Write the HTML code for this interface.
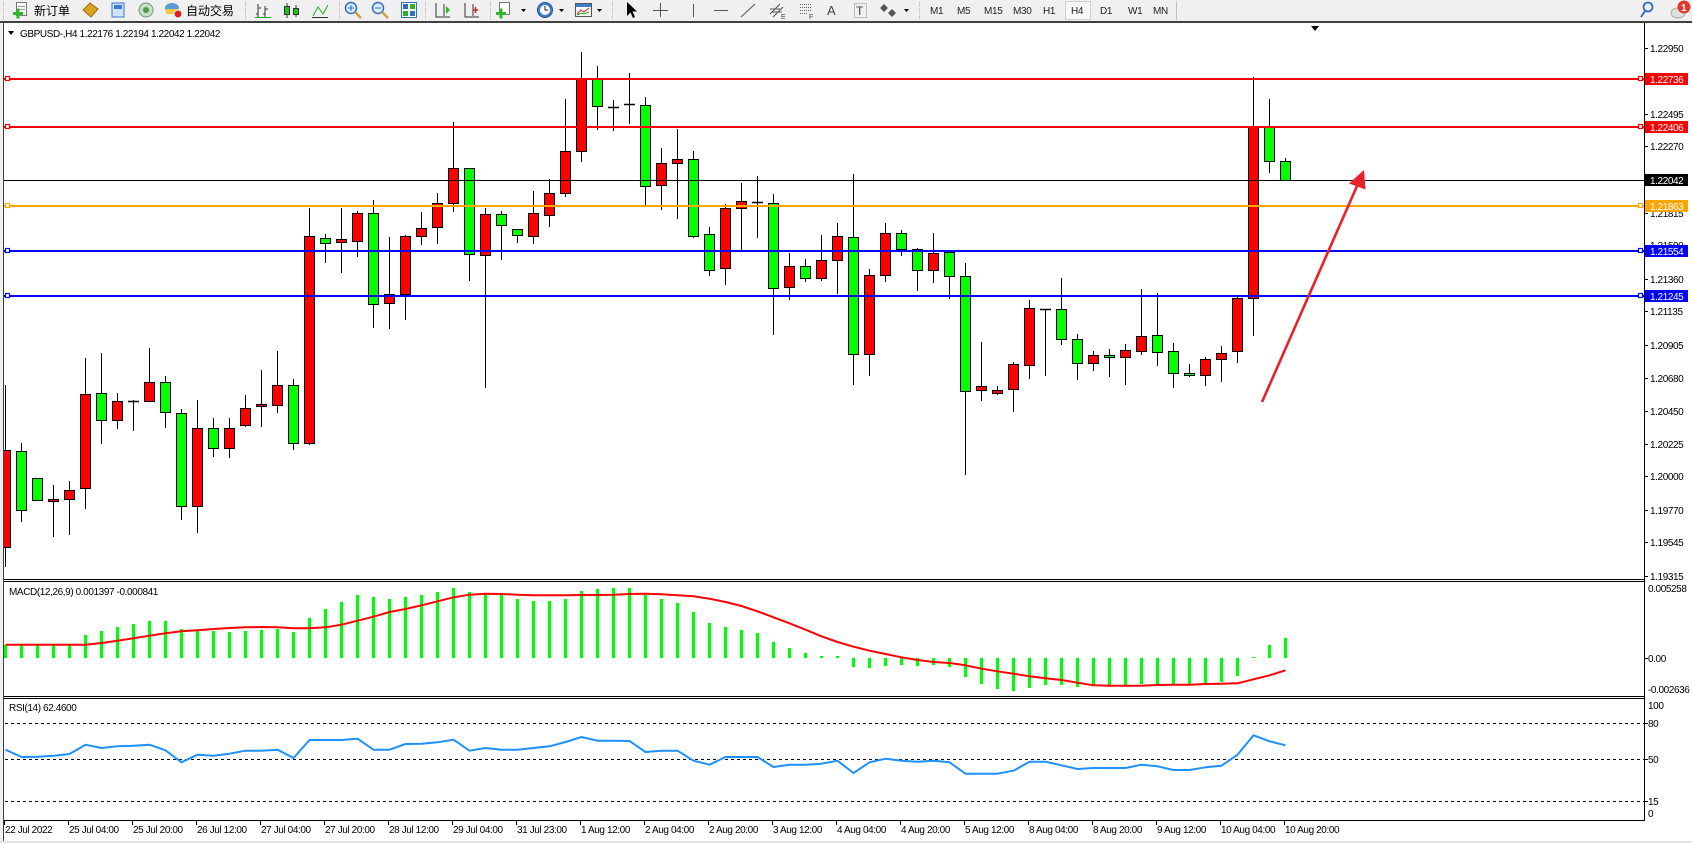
<!DOCTYPE html>
<html><head><meta charset="utf-8">
<style>
html,body{margin:0;padding:0;width:1692px;height:843px;overflow:hidden;background:#f0f0f0;}
svg{display:block;}
text{font-family:"Liberation Sans","Noto Sans CJK SC",sans-serif;}
.ax{font-size:10px;letter-spacing:-0.4px;fill:#000;}
.tf{font-size:10px;letter-spacing:-0.3px;fill:#222;}
.cj{font-size:12px;fill:#000;font-family:"Liberation Sans","Noto Sans CJK SC",sans-serif;}
.tag{font-size:10px;letter-spacing:-0.4px;fill:#fff;}
</style></head><body>
<svg id="s" width="1692" height="843" viewBox="0 0 1692 843" xmlns="http://www.w3.org/2000/svg">
<defs>
<clipPath id="cm"><rect x="4" y="23" width="1640" height="556"/></clipPath>
<clipPath id="cd"><rect x="4" y="582" width="1640" height="114"/></clipPath>
<clipPath id="cr"><rect x="4" y="699" width="1640" height="121"/></clipPath>
</defs>

<!-- toolbar -->
<rect x="0" y="0" width="1692" height="21" fill="#f0f0f0"/>
<g stroke="#b0b0b0" stroke-width="1" stroke-dasharray="1,1">
<line x1="3.5" y1="2" x2="3.5" y2="19"/>
<line x1="245.5" y1="2" x2="245.5" y2="19"/>
<line x1="339.5" y1="2" x2="339.5" y2="19"/>
<line x1="425.5" y1="2" x2="425.5" y2="19"/>
<line x1="490.5" y1="2" x2="490.5" y2="19"/>
<line x1="612.5" y1="2" x2="612.5" y2="19"/>
<line x1="919.5" y1="2" x2="919.5" y2="19"/>
</g>
<line x1="1176.5" y1="1" x2="1176.5" y2="20" stroke="#c0c0c0"/>
<!-- new order icon -->
<rect x="16.5" y="2.5" width="10" height="13" fill="#fff" stroke="#777"/>
<line x1="18" y1="6.5" x2="25" y2="6.5" stroke="#999"/><line x1="18" y1="9.5" x2="25" y2="9.5" stroke="#999"/>
<rect x="13" y="12" width="10" height="3" fill="#2db82d"/><rect x="16.5" y="8.5" width="3" height="10" fill="#2db82d"/>
<text x="34" y="15" class="cj">新订单</text>
<polygon points="83,10 90,3 98,9 91,17" fill="#d9a520" stroke="#9a6d10"/>
<rect x="112" y="3" width="12" height="14" fill="#cfe3f7" stroke="#3a7bd5"/>
<rect x="114" y="5" width="8" height="4" fill="#3a7bd5"/>
<circle cx="146" cy="10" r="7" fill="#c8dcc8" stroke="#6a9a6a"/><circle cx="146" cy="10" r="3" fill="#4a9a4a"/>
<ellipse cx="172" cy="8" rx="7" ry="5" fill="#5b9bd5"/><rect x="166" y="9" width="13" height="5" fill="#f2c744"/>
<circle cx="178" cy="14" r="4" fill="#e02020" stroke="#fff"/>
<text x="186" y="15" class="cj">自动交易</text>
<g stroke="#333" fill="none">
<path d="M258 4V17M258 8h3M258 14h-2M265 6V17M265 9h3M265 14h-2"/>
<line x1="255" y1="17.5" x2="271" y2="17.5" stroke="#2a2"/>
<path d="M287 3V18M296 5V17"/>
<path d="M313 16l5-9 5 7 5-9" stroke="#2a2"/>
<line x1="312" y1="17.5" x2="328" y2="17.5"/>
</g>
<rect x="284.5" y="6.5" width="5" height="8" fill="#1ec41e" stroke="#333"/>
<rect x="293.5" y="8.5" width="5" height="6" fill="#1ec41e" stroke="#333"/>
<circle cx="351" cy="8" r="5.5" fill="#dcecfb" stroke="#2f6fc0" stroke-width="1.5"/>
<path d="M348 8h6M351 5v6" stroke="#2f6fc0"/><line x1="355" y1="12" x2="361" y2="18" stroke="#c8a040" stroke-width="2.5"/>
<circle cx="378" cy="8" r="5.5" fill="#dcecfb" stroke="#2f6fc0" stroke-width="1.5"/>
<path d="M375 8h6" stroke="#2f6fc0"/><line x1="382" y1="12" x2="388" y2="18" stroke="#c8a040" stroke-width="2.5"/>
<rect x="401.5" y="2.5" width="15" height="15" fill="#fff" stroke="#2f6fc0"/>
<rect x="403" y="4" width="5" height="5" fill="#2f6fc0"/><rect x="410" y="4" width="5" height="5" fill="#2fb02f"/>
<rect x="403" y="11" width="5" height="5" fill="#2fb02f"/><rect x="410" y="11" width="5" height="5" fill="#2f6fc0"/>
<g stroke="#333" fill="none"><path d="M436 3V17h14M444 4V16"/><path d="M465 3V17h14M473 4V16"/></g>
<polygon points="446,6 450,10 446,14" fill="#1ec41e"/>
<path d="M473 10h5M475.5 7v6" stroke="#d02020" stroke-width="1.5"/>
<rect x="499.5" y="2.5" width="10" height="12" fill="#fff" stroke="#777"/>
<rect x="496" y="12" width="10" height="3" fill="#2db82d"/><rect x="499.5" y="8.5" width="3" height="10" fill="#2db82d"/>
<polygon points="521,9 526,9 523.5,12" fill="#000"/>
<circle cx="545" cy="10" r="7.5" fill="#3f7fd0" stroke="#1f4f90"/><circle cx="545" cy="10" r="5" fill="#fff"/>
<path d="M545 6v4h3" stroke="#222" fill="none"/>
<polygon points="559,9 564,9 561.5,12" fill="#000"/>
<rect x="575.5" y="3.5" width="16" height="13" fill="#fff" stroke="#555"/><rect x="576" y="4" width="15" height="3" fill="#3f7fd0"/>
<path d="M577 14l4-4 3 2 5-4" stroke="#d02020" fill="none"/><path d="M577 15l4-2 3 1 5-2" stroke="#2a2" fill="none"/>
<polygon points="597,9 602,9 599.5,12" fill="#000"/>
<polygon points="627,2 627,16 630.5,12.5 633,18 635,17 632.5,11.5 637,11.5" fill="#000"/>
<path d="M660.5 3v14M653 10.5h15" stroke="#555"/>
<line x1="693.5" y1="4" x2="693.5" y2="17" stroke="#555"/>
<line x1="714" y1="10.5" x2="728" y2="10.5" stroke="#555"/>
<line x1="741" y1="17" x2="755" y2="4" stroke="#555"/>
<path d="M770 14l10-10M773 17l10-10M770 9h10M772 12h10" stroke="#555" fill="none"/>
<text x="781" y="19" style="font-size:7px;fill:#444">E</text>
<g stroke="#666" stroke-dasharray="1,1"><line x1="800" y1="4.5" x2="812" y2="4.5"/><line x1="800" y1="7.5" x2="812" y2="7.5"/><line x1="800" y1="10.5" x2="812" y2="10.5"/><line x1="800" y1="13.5" x2="808" y2="13.5"/></g>
<text x="809" y="19" style="font-size:7px;fill:#444">F</text>
<text x="827" y="15" style="font-size:13px;fill:#444">A</text>
<rect x="854.5" y="3.5" width="12" height="14" fill="none" stroke="#888" stroke-dasharray="1,1"/>
<text x="856" y="15" style="font-size:12px;fill:#444">T</text>
<polygon points="884,4 888,8 884,12 880,8" fill="#555"/><polygon points="892,9 896,13 892,17 888,13" fill="#555"/>
<polygon points="904,9 909,9 906.5,12" fill="#000"/>
<rect x="1065.5" y="1.5" width="25" height="18" fill="#f8f8f8" stroke="#d0d0d0"/>
<text x="930" y="14" class="tf">M1</text>
<text x="957" y="14" class="tf">M5</text>
<text x="984" y="14" class="tf">M15</text>
<text x="1013" y="14" class="tf">M30</text>
<text x="1043" y="14" class="tf">H1</text>
<text x="1071" y="14" class="tf">H4</text>
<text x="1100" y="14" class="tf">D1</text>
<text x="1128" y="14" class="tf">W1</text>
<text x="1153" y="14" class="tf">MN</text>
<circle cx="1648" cy="7" r="4.5" fill="none" stroke="#2f6fc0" stroke-width="1.8"/>
<line x1="1645" y1="11" x2="1641" y2="17" stroke="#2f6fc0" stroke-width="2"/>
<ellipse cx="1678" cy="13" rx="7" ry="5" fill="#e0e0e0" stroke="#aaa"/>
<circle cx="1684" cy="7" r="6.5" fill="#e03a2a"/>
<text x="1681" y="11" style="font-size:10px;fill:#fff;font-weight:bold">1</text>

<!-- chart frame -->
<rect x="0" y="21" width="1692" height="2" fill="#404040"/>
<rect x="4" y="23" width="1688" height="818" fill="#fff"/>
<rect x="3" y="21" width="1" height="820" fill="#404040"/>
<rect x="0" y="841" width="1692" height="2" fill="#e4e4e4"/>

<!-- panel borders -->
<g stroke="#000" stroke-width="1">
<line x1="4" y1="579.5" x2="1645" y2="579.5"/>
<line x1="4" y1="581.5" x2="1645" y2="581.5"/>
<line x1="4" y1="696.5" x2="1645" y2="696.5"/>
<line x1="4" y1="698.5" x2="1645" y2="698.5"/>
<line x1="4" y1="820.5" x2="1645" y2="820.5"/>
<line x1="1644.5" y1="23" x2="1644.5" y2="821"/>
</g>

<!-- title -->
<polygon points="8,31 14,31 11,35" fill="#000"/>
<text x="20" y="37" class="ax">GBPUSD-,H4  1.22176 1.22194 1.22042 1.22042</text>
<polygon points="1311,26 1319,26 1315,31" fill="#000"/>

<g id="candles" clip-path="url(#cm)"></g>

<!-- horizontal lines -->
<g clip-path="url(#cm)">
<line x1="4" y1="79" x2="1644" y2="79" stroke="#ff0000" stroke-width="2"/>
<line x1="4" y1="127" x2="1644" y2="127" stroke="#ff0000" stroke-width="2"/>
<line x1="4" y1="180.5" x2="1644" y2="180.5" stroke="#000" stroke-width="1"/>
<line x1="4" y1="206" x2="1644" y2="206" stroke="#ffa500" stroke-width="2"/>
<line x1="4" y1="251" x2="1644" y2="251" stroke="#0000ff" stroke-width="2"/>
<line x1="4" y1="296" x2="1644" y2="296" stroke="#0000ff" stroke-width="2"/>
<g fill="#fff" stroke-width="1.2">
<rect x="5.5" y="76.5" width="4" height="4" stroke="#ff0000"/><rect x="1638.5" y="76.5" width="4" height="4" stroke="#ff0000"/>
<rect x="5.5" y="124.5" width="4" height="4" stroke="#ff0000"/><rect x="1638.5" y="124.5" width="4" height="4" stroke="#ff0000"/>
<rect x="5.5" y="203.5" width="4" height="4" stroke="#ffa500"/><rect x="1638.5" y="203.5" width="4" height="4" stroke="#ffa500"/>
<rect x="5.5" y="248.5" width="4" height="4" stroke="#0000ff"/><rect x="1638.5" y="248.5" width="4" height="4" stroke="#0000ff"/>
<rect x="5.5" y="293.5" width="4" height="4" stroke="#0000ff"/><rect x="1638.5" y="293.5" width="4" height="4" stroke="#0000ff"/>
</g>
</g>

<!-- arrow -->
<line x1="1262" y1="402" x2="1357" y2="186" stroke="#e8202a" stroke-width="2.6"/>
<polygon points="1364,170 1349,183.5 1365.5,189.5" fill="#e8202a"/>

<!-- price axis -->
<g stroke="#000">
<path d="M1644 48.5h4M1644 114.5h4M1644 146.5h4M1644 213.5h4M1644 245.5h4M1644 279.5h4M1644 311.5h4M1644 345.5h4M1644 378.5h4M1644 411.5h4M1644 444.5h4M1644 476.5h4M1644 510.5h4M1644 542.5h4M1644 576.5h4M1644 658.5h4M1644 723.5h4M1644 759.5h4M1644 801.5h4"/>
</g>
<text x="1650" y="52" class="ax">1.22950</text>
<text x="1650" y="85" class="ax">1.22720</text>
<text x="1650" y="118" class="ax">1.22495</text>
<text x="1650" y="150" class="ax">1.22270</text>
<text x="1650" y="217" class="ax">1.21815</text>
<text x="1650" y="249" class="ax">1.21590</text>
<text x="1650" y="283" class="ax">1.21360</text>
<text x="1650" y="315" class="ax">1.21135</text>
<text x="1650" y="349" class="ax">1.20905</text>
<text x="1650" y="382" class="ax">1.20680</text>
<text x="1650" y="415" class="ax">1.20450</text>
<text x="1650" y="448" class="ax">1.20225</text>
<text x="1650" y="480" class="ax">1.20000</text>
<text x="1650" y="514" class="ax">1.19770</text>
<text x="1650" y="546" class="ax">1.19545</text>
<text x="1650" y="580" class="ax">1.19315</text>
<rect x="1645" y="73" width="43" height="12" fill="#ff0000"/><text x="1650" y="83" class="tag">1.22736</text>
<rect x="1645" y="121" width="43" height="12" fill="#ff0000"/><text x="1650" y="131" class="tag">1.22406</text>
<rect x="1645" y="174" width="43" height="12" fill="#000"/><text x="1650" y="184" class="tag">1.22042</text>
<rect x="1645" y="200" width="43" height="12" fill="#ffa500"/><text x="1650" y="210" class="tag">1.21863</text>
<rect x="1645" y="245" width="43" height="12" fill="#0000ff"/><text x="1650" y="255" class="tag">1.21554</text>
<rect x="1645" y="290" width="43" height="12" fill="#0000ff"/><text x="1650" y="300" class="tag">1.21245</text>

<!-- MACD -->
<g id="macd" clip-path="url(#cd)"></g>
<text x="9" y="595" class="ax">MACD(12,26,9) 0.001397 -0.000841</text>
<text x="1648" y="592" class="ax">0.005258</text>
<text x="1648" y="662" class="ax">0.00</text>
<text x="1648" y="693" class="ax">-0.002636</text>

<!-- RSI -->
<g stroke="#000" stroke-width="1" stroke-dasharray="3,3">
<line x1="5" y1="723.5" x2="1644" y2="723.5"/>
<line x1="5" y1="759.5" x2="1644" y2="759.5"/>
<line x1="5" y1="801.5" x2="1644" y2="801.5"/>
</g>
<g id="rsi" clip-path="url(#cr)"></g>
<text x="9" y="711" class="ax">RSI(14) 62.4600</text>
<text x="1648" y="709" class="ax">100</text>
<text x="1648" y="727" class="ax">80</text>
<text x="1648" y="763" class="ax">50</text>
<text x="1648" y="805" class="ax">15</text>
<text x="1648" y="817" class="ax">0</text>

<!-- time axis -->
<g id="ticks" stroke="#000"></g>
<g class="ax">
<text x="5" y="833" class="ax">22 Jul 2022</text>
<text x="69" y="833" class="ax">25 Jul 04:00</text>
<text x="133" y="833" class="ax">25 Jul 20:00</text>
<text x="197" y="833" class="ax">26 Jul 12:00</text>
<text x="261" y="833" class="ax">27 Jul 04:00</text>
<text x="325" y="833" class="ax">27 Jul 20:00</text>
<text x="389" y="833" class="ax">28 Jul 12:00</text>
<text x="453" y="833" class="ax">29 Jul 04:00</text>
<text x="517" y="833" class="ax">31 Jul 23:00</text>
<text x="581" y="833" class="ax">1 Aug 12:00</text>
<text x="645" y="833" class="ax">2 Aug 04:00</text>
<text x="709" y="833" class="ax">2 Aug 20:00</text>
<text x="773" y="833" class="ax">3 Aug 12:00</text>
<text x="837" y="833" class="ax">4 Aug 04:00</text>
<text x="901" y="833" class="ax">4 Aug 20:00</text>
<text x="965" y="833" class="ax">5 Aug 12:00</text>
<text x="1029" y="833" class="ax">8 Aug 04:00</text>
<text x="1093" y="833" class="ax">8 Aug 20:00</text>
<text x="1157" y="833" class="ax">9 Aug 12:00</text>
<text x="1221" y="833" class="ax">10 Aug 04:00</text>
<text x="1285" y="833" class="ax">10 Aug 20:00</text>
</g>
</svg>
<script>
(function(){
var NS="http://www.w3.org/2000/svg";
function el(t,a,p){var e=document.createElementNS(NS,t);for(var k in a)e.setAttribute(k,a[k]);p.appendChild(e);return e;}
var C=[
['r',1175,1448,995,1500],['g',1178,1345,1157,1375],['g',1255,1317,1255,1317],['r',1314,1320,1275,1418],['r',1287,1314,1262,1410],
['r',1018,1283,918,1337],['g',1015,1093,905,1155],['r',1040,1093,1015,1115],['d',1040,1040,1035,1120],['r',985,1040,890,1040],
['g',985,1070,968,1112],['g',1073,1334,1062,1370],['r',1115,1334,1037,1405],['g',1113,1170,1085,1192],['r',1113,1170,1087,1195],
['r',1057,1107,1023,1110],['r',1047,1053,952,1110],['r',993,1050,900,1070],['g',993,1155,978,1172],['r',578,1157,498,1160],
['g',581,597,572,650],['r',586,594,498,677],['r',511,590,508,632],['g',511,768,477,832],['r',740,765,580,835],
['r',578,740,575,808],['r',553,578,510,598],['r',483,552,455,595],['r',385,485,258,506],['g',385,628,385,700],
['r',516,631,497,1000],['g',516,547,508,640],['g',558,575,558,593],['r',513,576,451,595],['r',455,517,418,548],
['r',340,455,193,464],['r',133,338,62,367],['g',133,214,101,277],['d',215,215,196,279],['d',206,206,120,260],
['g',211,438,188,487],['r',371,435,330,500],['r',362,373,277,525],['g',362,576,340,580],['g',572,673,552,685],
['r',499,667,488,710],['r',480,499,428,617],['d',481,481,409,580],['g',483,723,459,850],['r',662,720,624,752],
['g',662,695,641,702],['r',645,695,574,700],['r',578,645,540,735],['g',580,908,403,990],['r',687,908,670,965],
['r',569,687,540,702],['g',567,614,560,630],['g',614,673,610,727],['r',625,673,568,705],['g',622,690,620,750],
['g',690,1012,652,1242],['r',998,1009,873,1035],['r',1009,1015,997,1020],['r',936,1006,930,1066],['r',779,937,757,975],
['d',780,780,780,965],['g',782,866,694,880],['g',866,933,852,976],['r',911,933,899,951],['g',911,916,893,970],
['r',897,916,880,990],['r',858,900,725,906],['g',855,902,735,937],['g',900,961,875,1000],['g',961,967,935,970],
['r',922,967,915,993],['r',903,922,885,982],['r',751,900,745,929],['r',268,751,132,853],['g',268,368,193,397],
['g',368,421,359,421]
];
function yc(z){return 30+z/2.8;}
function sn(v){return Math.round(v)+0.5;}
var gC=document.getElementById('candles');
C.forEach(function(c,k){
 var x0=16*k;
 var wt=sn(yc(c[3])),wb=sn(yc(c[4]));
 if(wb>wt) el('line',{x1:x0+5.5,y1:wt-0.5,x2:x0+5.5,y2:wb+0.5,stroke:'#000','stroke-width':1},gC);
 if(c[0]==='d'){var y=sn(yc(c[1]));el('line',{x1:x0,y1:y,x2:x0+11,y2:y,stroke:'#000','stroke-width':1.5},gC);}
 else{var t=sn(yc(c[1])),b=sn(yc(c[2]));if(b-t<2)b=t+2;
 el('rect',{x:x0+0.5,y:t,width:10,height:b-t,fill:c[0]==='r'?'#ff0000':'#00ff00',stroke:'#000','stroke-width':1},gC);}
});
var M=[200,200,200,200,200,170,158,147,137,128,128,153,155,158,161,158,155,152,161,119,93,71,50,57,62,57,50,42,30,42,45,52,62,68,68,62,39,33,30,30,50,63,75,102,135,147,156,165,192,210,225,234,234,267,270,264,260,264,262,267,297,318,333,340,330,322,322,327,325,322,322,318,318,318,318,318,312,293,237,201,180];
var S=[200,200,200,200,200,200,195,188,181,173,166,160,157,153,150,148,147,148,151,151,148,140,128,116,102,93,82,70,58,50,47,48,50,52,52,52,51,51,50,48,47,49,52,55,62,72,84,100,118,136,155,175,192,206,218,228,238,246,252,255,262,272,280,287,295,301,306,314,322,323,323,323,321,320,320,318,317,316,304,292,277];
var R=[515,537,536,533,528,500,510,505,503,500,517,553,530,533,527,518,518,515,540,486,486,486,482,515,515,498,497,493,485,518,510,515,515,510,505,492,477,488,488,489,522,518,518,548,560,537,537,537,567,560,560,557,548,585,553,542,548,551,548,553,587,587,587,578,551,551,562,573,570,570,570,560,565,576,576,568,563,530,472,490,502];
var gM=document.getElementById('macd');
var base=658;
M.forEach(function(z,k){var y=Math.round(578+z/3);var x=16*k+4;
 if(y<base) el('rect',{x:x,y:y,width:3,height:base-y,fill:'#00ff00'},gM);
 else if(y>base) el('rect',{x:x,y:base,width:3,height:y-base,fill:'#00ff00'},gM);
});
var p=S.map(function(z,k){return (16*k+5.5)+','+(578+z/3).toFixed(1);}).join(' ');
el('polyline',{points:p,fill:'none',stroke:'#ff0000','stroke-width':2,'stroke-linejoin':'round'},gM);
var gR=document.getElementById('rsi');
var q=R.map(function(z,k){return (16*k+5.5)+','+(578+z/3).toFixed(1);}).join(' ');
el('polyline',{points:q,fill:'none',stroke:'#1e90ff','stroke-width':2,'stroke-linejoin':'round'},gR);
var gT=document.getElementById('ticks');
for(var i=0;i<21;i++){var x=4.5+64*i;el('line',{x1:x,y1:821,x2:x,y2:825},gT);}
})();
</script>
</body></html>
